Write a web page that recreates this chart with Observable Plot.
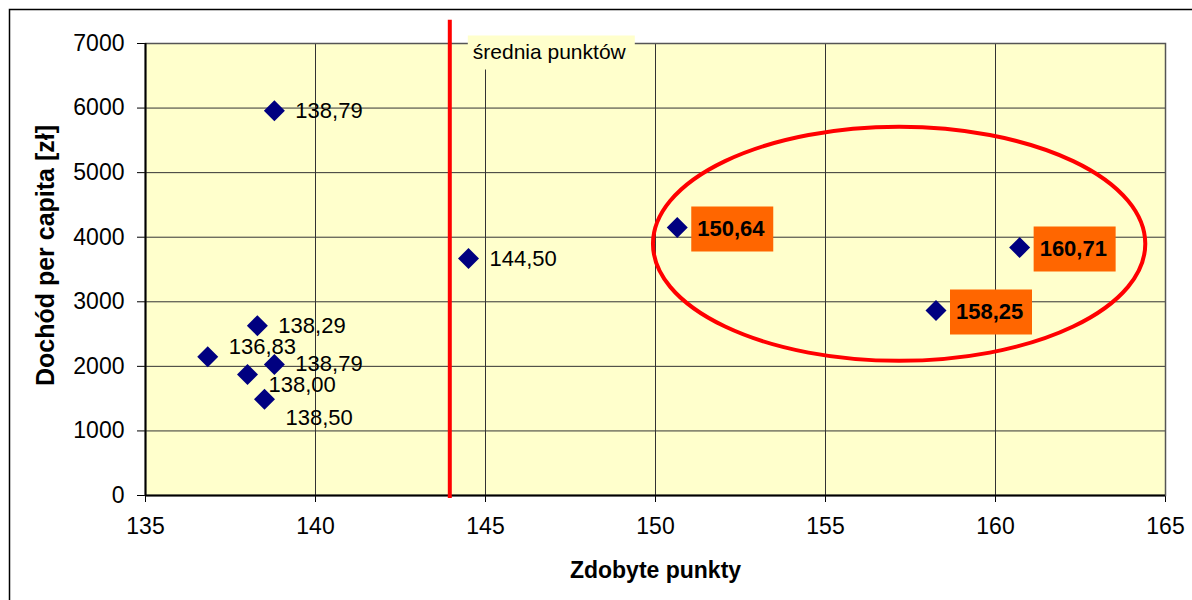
<!DOCTYPE html>
<html>
<head>
<meta charset="utf-8">
<script src="https://cdn.jsdelivr.net/npm/d3@7"></script>
<script src="https://cdn.jsdelivr.net/npm/@observablehq/plot@0.6"></script>
<style>
  body { margin: 0; background: #fff; }
  #chart svg { display: block; }
  #chart svg g[aria-label^="x-axis"] text,
  #chart svg g[aria-label^="y-axis"] text { font-size: 23px; }
</style>
</head>
<body>
<div id="chart"></div>
<script>
// ---- data ----
const punkty   = [138.79, 144.50, 150.64, 160.71, 158.25, 138.29, 136.83, 138.79, 138.00, 138.50];
const dochod   = [5960, 3670, 4150, 3840, 2865, 2630, 2150, 2030, 1875, 1490];
const etykiety = ["138,79", "144,50", "150,64", "160,71", "158,25", "138,29", "136,83", "138,79", "138,00", "138,50"];
const wyroznione = [false, false, true, true, true, false, false, false, false, false];
const xTicks = [135, 140, 145, 150, 155, 160, 165];
const yTicks = [0, 1000, 2000, 3000, 4000, 5000, 6000, 7000];
const sredniaPunktow = 143.95;
const sredniaEtykieta = "średnia punktów";
const xTytul = "Zdobyte punkty";
const yTytul = "Dochód per capita [zł]";
// annotation ellipse (data units): centre and radii
const elipsaSrodek = [157.18, 3890];
const elipsaPromien = [7.24, 1812];

// ---- layout / style (pixels) ----
const labelDy = [0, 0, 0, 0, 0, 0, -10, 0, 11, 19];
const FONT = "'Liberation Sans', Arial, sans-serif";

const data = punkty.map((x, i) => ({x, y: dochod[i], label: etykiety[i], hi: wyroznione[i], dy: labelDy[i]}));
const normal = data.filter(d => !d.hi);
const highlighted = data.filter(d => d.hi);

const diamond = {draw(ctx) { const h = 10.5; ctx.moveTo(0, -h); ctx.lineTo(h, 0); ctx.lineTo(0, h); ctx.lineTo(-h, 0); ctx.closePath(); }};
const orangeBox = {draw(ctx) { ctx.rect(14, -21, 82, 45); }};
const avgBox = {draw(ctx) { ctx.rect(18, -8, 167, 34); }};

const SVGNS = "http://www.w3.org/2000/svg";
function ellipseMark(index, scales) {
  const cx = scales.x(elipsaSrodek[0]), cy = scales.y(elipsaSrodek[1]);
  const rx = Math.abs(scales.x(elipsaSrodek[0] + elipsaPromien[0]) - cx);
  const ry = Math.abs(scales.y(elipsaSrodek[1] + elipsaPromien[1]) - cy);
  const el = document.createElementNS(SVGNS, "ellipse");
  el.setAttribute("cx", cx); el.setAttribute("cy", cy);
  el.setAttribute("rx", rx); el.setAttribute("ry", ry);
  el.setAttribute("fill", "none"); el.setAttribute("stroke", "#ff0000"); el.setAttribute("stroke-width", 4);
  return el;
}
function outerBorder() {
  const p = document.createElementNS(SVGNS, "path");
  p.setAttribute("d", "M9.5,600V9.5H1192");
  p.setAttribute("fill", "none"); p.setAttribute("stroke", "#000"); p.setAttribute("stroke-width", 1.5);
  return p;
}

const dyGroups = [...new Set(normal.map(d => d.dy))];

const chart = Plot.plot({
  width: 1192,
  height: 600,
  marginLeft: 145,
  marginRight: 27,
  marginTop: 43,
  marginBottom: 105,
  style: {fontFamily: FONT, fontSize: "22px", color: "#000", background: "#fff", overflow: "visible"},
  x: {domain: [135, 165], ticks: xTicks, tickSize: 7, tickPadding: 15, label: null, tickFormat: d => String(d)},
  y: {domain: [0, 7000], ticks: yTicks, tickSize: 8, tickPadding: 13, label: null, tickFormat: d => String(d)},
  marks: [
    Plot.frame({fill: "#FFFFCC", stroke: null}),
    Plot.ruleX(xTicks, {stroke: "#333", strokeWidth: 1}),
    Plot.ruleY(yTicks, {stroke: "#333", strokeWidth: 1}),
    Plot.frame({stroke: "#555", strokeWidth: 1.5}),
    Plot.ruleX([135], {stroke: "#000", strokeWidth: 2}),
    Plot.ruleY([0], {stroke: "#000", strokeWidth: 2}),
    Plot.ruleX([sredniaPunktow], {y1: 7360, y2: -45, stroke: "#ff0000", strokeWidth: 4}),
    Plot.dot([sredniaPunktow], {x: d => d, frameAnchor: "top", symbol: avgBox, fill: "#FFFFCC", stroke: null}),
    Plot.text([sredniaEtykieta], {x: () => sredniaPunktow, text: d => d, frameAnchor: "top", textAnchor: "start", lineAnchor: "middle", dx: 23, dy: 9, fontSize: 21, fill: "#000"}),
    ellipseMark,
    Plot.dot(highlighted, {x: "x", y: "y", symbol: orangeBox, fill: "#FF6600", stroke: null}),
    Plot.dot(data, {x: "x", y: "y", symbol: diamond, fill: "#000080", stroke: null}),
    ...dyGroups.map(o => Plot.text(normal.filter(d => d.dy === o), {x: "x", y: "y", text: "label", textAnchor: "start", lineAnchor: "middle", dx: 21, dy: o, fontSize: 22, fill: "#000"})),
    Plot.text(highlighted, {x: "x", y: "y", text: "label", textAnchor: "start", lineAnchor: "middle", dx: 20, dy: 1, fontSize: 22, fontWeight: "bold", fill: "#000"}),
    Plot.text([xTytul], {text: d => d, frameAnchor: "bottom", textAnchor: "middle", lineAnchor: "middle", dy: 75, fontSize: 23, fontWeight: "bold", fill: "#000"}),
    Plot.text([yTytul], {text: d => d, frameAnchor: "left", textAnchor: "middle", rotate: -90, lineAnchor: "middle", dx: -100, dy: -14, fontSize: 25, fontWeight: "bold", fill: "#000"}),
    outerBorder
  ]
});
document.getElementById("chart").appendChild(chart);
</script>
</body>
</html>
